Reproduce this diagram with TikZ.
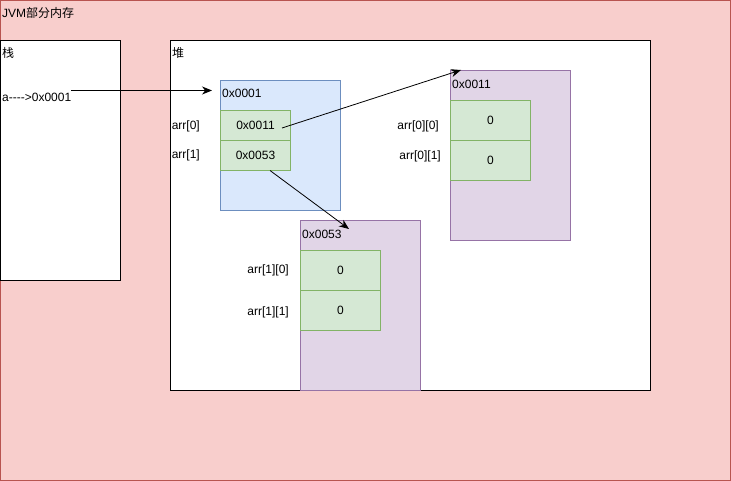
\documentclass[tikz,border=0pt]{standalone}
\usepackage{fontspec}
\setmainfont{Liberation Sans}
\newfontfamily\cjk{Noto Sans CJK SC}
\usetikzlibrary{arrows.meta}
\definecolor{outerfill}{HTML}{F8CECC}
\definecolor{outerdraw}{HTML}{B85450}
\definecolor{bluefill}{HTML}{DAE8FC}
\definecolor{bluedraw}{HTML}{6C8EBF}
\definecolor{greenfill}{HTML}{D5E8D4}
\definecolor{greendraw}{HTML}{82B366}
\definecolor{purplefill}{HTML}{E1D5E7}
\definecolor{purpledraw}{HTML}{9673A6}
\tikzset{
  box/.style={rectangle, inner sep=0pt, outer sep=0pt, anchor=north west, line width=0.8pt},
  txt/.style={inner sep=0pt, font=\fontsize{12}{14}\selectfont},
  arr/.style={draw, line width=0.8pt, -{Stealth[length=10pt,width=8pt]}},
}
\begin{document}
\begin{tikzpicture}[x=1pt,y=-1pt]
\useasboundingbox (0,0) rectangle (731,481);
% outer
\node[box, fill=outerfill, draw=outerdraw, minimum width=730pt, minimum height=480pt] (outer) at (0.5,0.5) {};
\node[txt, anchor=west] (title) at (2,13) {JVM{\cjk 部分内存}};
% stack
\node[box, fill=white, draw=black, minimum width=120pt, minimum height=240pt] (stack) at (0.5,40.5) {};
\node[txt, anchor=west] (stacklbl) at (2,53) {\cjk 栈};
\node[txt, anchor=west] (aref) at (2,97) {a-{}-{}-{}-{}>0x0001};
% heap
\node[box, fill=white, draw=black, minimum width=480pt, minimum height=350pt] (heap) at (170.5,40.5) {};
\node[txt, anchor=west] (heaplbl) at (172,53) {\cjk 堆};
% blue array
\node[box, fill=bluefill, draw=bluedraw, minimum width=120pt, minimum height=130pt] (arrA) at (220.5,80.5) {};
\node[txt, anchor=west] (arrAaddr) at (222,93) {0x0001};
\node[box, fill=greenfill, draw=greendraw, minimum width=70pt, minimum height=30pt] (c0) at (220.5,110.5) {};
\node[box, fill=greenfill, draw=greendraw, minimum width=70pt, minimum height=30pt] (c1) at (220.5,140.5) {};
\node[txt] (c0t) at (255.5,125.5) {0x0011};
\node[txt] (c1t) at (255.5,155.5) {0x0053};
\node[txt, anchor=east] (l0) at (200,126) {arr[0]};
\node[txt, anchor=east] (l1) at (200,155) {arr[1]};
% purple array 1
\node[box, fill=purplefill, draw=purpledraw, minimum width=120pt, minimum height=170pt] (arrB) at (450.5,70.5) {};
\node[txt, anchor=west] (arrBaddr) at (452,84) {0x0011};
\node[box, fill=greenfill, draw=greendraw, minimum width=80pt, minimum height=40pt] (b0) at (450.5,100.5) {};
\node[box, fill=greenfill, draw=greendraw, minimum width=80pt, minimum height=40pt] (b1) at (450.5,140.5) {};
\node[txt] (b0t) at (490.5,120.5) {0};
\node[txt] (b1t) at (490.5,160.5) {0};
\node[txt, anchor=east] (lb0) at (439,126) {arr[0][0]};
\node[txt, anchor=east] (lb1) at (441,156) {arr[0][1]};
% purple array 2
\node[box, fill=purplefill, draw=purpledraw, minimum width=120pt, minimum height=170pt] (arrC) at (300.5,220.5) {};
\node[txt, anchor=west] (arrCaddr) at (302,234) {0x0053};
\node[box, fill=greenfill, draw=greendraw, minimum width=80pt, minimum height=40pt] (d0) at (300.5,250.5) {};
\node[box, fill=greenfill, draw=greendraw, minimum width=80pt, minimum height=40pt] (d1) at (300.5,290.5) {};
\node[txt] (d0t) at (340.5,270.5) {0};
\node[txt] (d1t) at (340.5,310.5) {0};
\node[txt, anchor=east] (ld0) at (289,270) {arr[1][0]};
\node[txt, anchor=east] (ld1) at (289,312) {arr[1][1]};
% arrow endpoints
\coordinate (p1s) at (71,90.5);
\coordinate (p1e) at (212,90.5);
\coordinate (p2s) at (282,128);
\coordinate (p2e) at (461,70);
\coordinate (p3s) at (270,170.5);
\coordinate (p3e) at (349,229);
\draw[arr] (p1s) -- (p1e);
\draw[arr] (p2s) -- (p2e);
\draw[arr] (p3s) -- (p3e);
\end{tikzpicture}
\end{document}
